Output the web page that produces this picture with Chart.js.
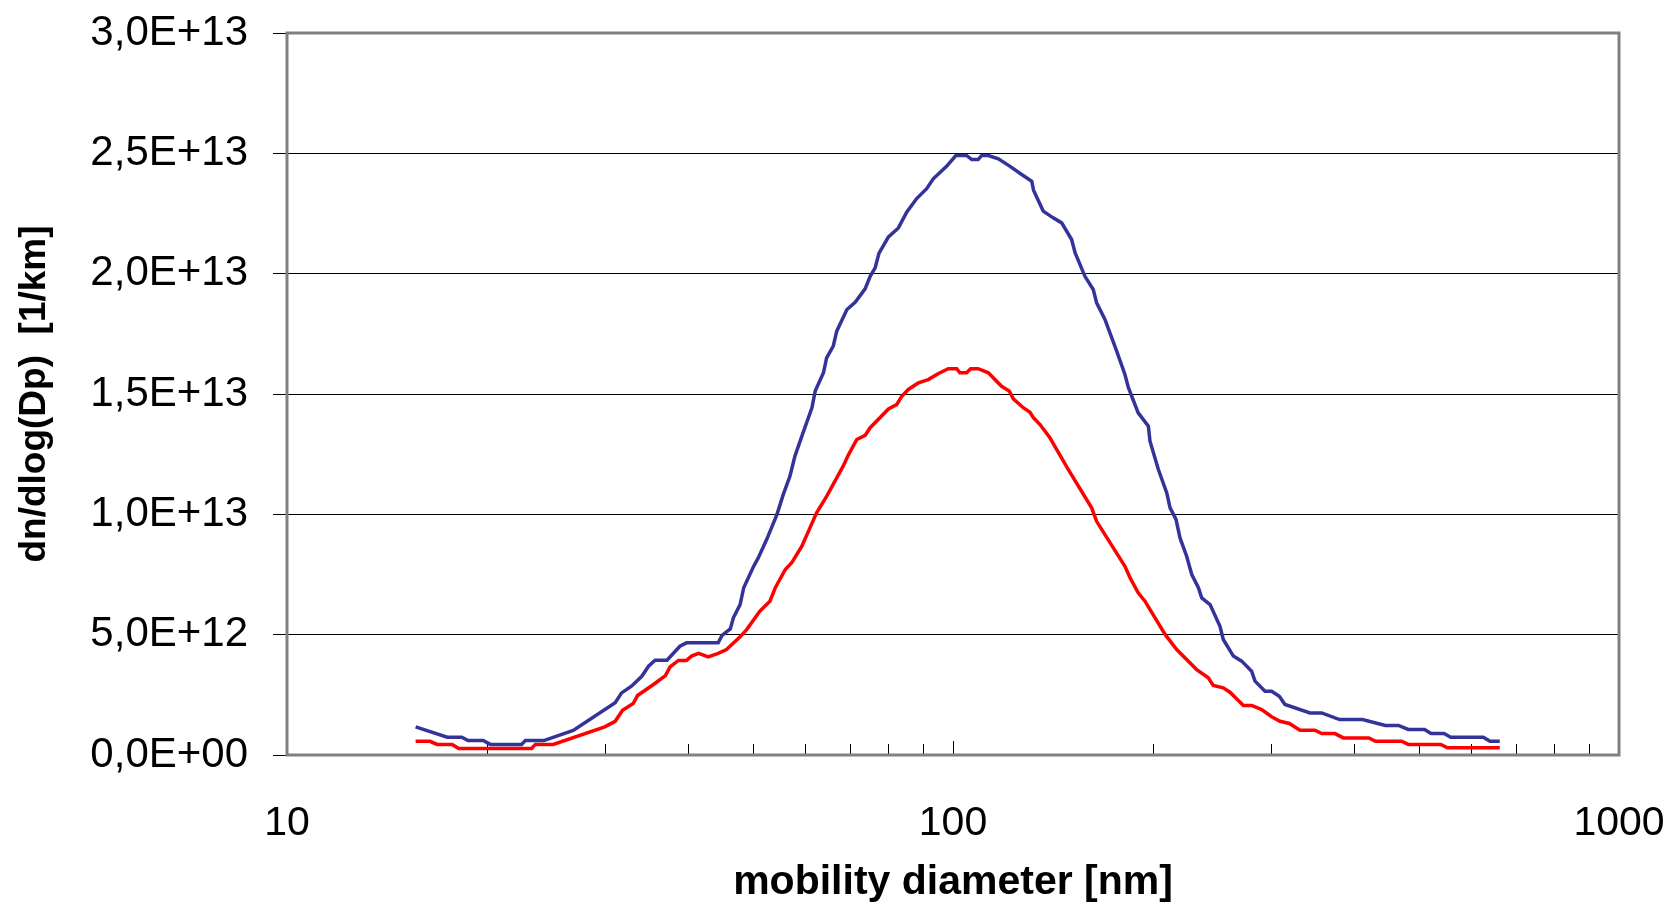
<!DOCTYPE html>
<html>
<head>
<meta charset="utf-8">
<script src="https://cdn.jsdelivr.net/npm/chart.js@4.4.1/dist/chart.umd.min.js"></script>
<style>
  html, body { margin: 0; padding: 0; background: #fff; }
  #wrap { width: 1674px; height: 902px; }
</style>
</head>
<body>
<div id="wrap"><canvas id="myChart" width="1674" height="902"></canvas></div>
<script>
// mobility diameter [nm] and dn/dlog(Dp) [1/km]
const diamBlue = [15.6, 17.4, 18.3, 18.7, 19.7, 20.2, 22.5, 22.8, 24.3, 26.9, 31.1, 31.8, 32.9, 34.1, 34.9, 35.7, 37.2, 38.9, 39.8, 44.4,
    45.0, 46.3, 46.8, 47.9, 48.5, 50.2, 51.0, 52.5, 54.4, 55.6, 56.9, 57.9, 59.3, 61.4, 62.1, 63.9, 64.6, 66.1, 66.9, 69.3,
    71.3, 73.8, 75.1, 76.4, 77.4, 80.0, 82.8, 85.2, 88.2, 91.3, 93.4, 97.8, 101.0, 104.8, 106.7, 109.1, 110.4, 113.0, 117.0, 121.8,
    126.8, 131.3, 132.1, 136.6, 141.4, 145.6, 150.7, 152.5, 157.8, 162.4, 164.3, 169.1, 176.1, 181.2, 183.4, 189.7, 196.5, 197.6, 203.4, 209.4,
    211.8, 216.2, 219.2, 224.3, 228.3, 233.6, 236.3, 243.2, 251.7, 254.6, 263.6, 271.3, 280.8, 284.1, 294.1, 300.9, 309.0, 315.1, 343.6, 357.8,
    380.6, 411.9, 445.8, 466.5, 482.6, 510.5, 522.2, 546.1, 558.9, 625.5, 640.1, 662.2];
const countBlue = [1.17e12, 0.74e12, 0.74e12, 0.60e12, 0.60e12, 0.44e12, 0.44e12, 0.60e12, 0.60e12, 1.02e12, 2.17e12, 2.58e12, 2.86e12, 3.27e12, 3.69e12, 3.94e12, 3.94e12, 4.52e12, 4.66e12, 4.66e12,
    4.97e12, 5.24e12, 5.70e12, 6.25e12, 6.95e12, 7.84e12, 8.19e12, 8.95e12, 9.99e12, 10.82e12, 11.58e12, 12.42e12, 13.25e12, 14.43e12, 15.12e12, 15.88e12, 16.50e12, 16.99e12, 17.61e12, 18.51e12,
    18.81e12, 19.37e12, 19.89e12, 20.24e12, 20.84e12, 21.53e12, 21.90e12, 22.55e12, 23.12e12, 23.53e12, 23.94e12, 24.46e12, 24.91e12, 24.91e12, 24.74e12, 24.74e12, 24.91e12, 24.91e12, 24.77e12, 24.46e12,
    24.12e12, 23.84e12, 23.47e12, 22.60e12, 22.32e12, 22.11e12, 21.42e12, 20.87e12, 19.89e12, 19.34e12, 18.79e12, 18.10e12, 16.78e12, 15.81e12, 15.26e12, 14.22e12, 13.66e12, 13.04e12, 11.86e12, 10.89e12,
    10.27e12, 9.79e12, 9.02e12, 8.26e12, 7.50e12, 6.95e12, 6.53e12, 6.25e12, 5.35e12, 4.80e12, 4.11e12, 3.90e12, 3.48e12, 3.07e12, 2.65e12, 2.65e12, 2.44e12, 2.10e12, 1.75e12, 1.75e12,
    1.47e12, 1.47e12, 1.23e12, 1.23e12, 1.06e12, 1.06e12, 0.89e12, 0.89e12, 0.74e12, 0.74e12, 0.57e12, 0.57e12];

const diamRed = [15.6, 16.4, 16.8, 17.7, 18.1, 23.3, 23.6, 25.1, 30.0, 31.1, 31.9, 33.1, 33.6, 35.5, 37.0, 37.6, 38.7, 39.8, 40.5, 41.5,
    42.9, 44.4, 45.7, 47.9, 49.0, 51.3, 53.1, 54.1, 56.0, 57.3, 59.3, 62.4, 64.6, 68.4, 69.6, 71.7, 73.8, 75.1, 80.0, 82.3,
    83.8, 85.7, 88.7, 91.8, 95.1, 98.4, 101.3, 102.4, 104.8, 106.3, 109.1, 113.0, 118.3, 121.5, 123.2, 127.5, 130.5, 132.1, 135.1, 139.8,
    149.0, 161.5, 164.3, 181.2, 184.5, 189.7, 194.2, 208.2, 216.7, 232.2, 241.7, 245.9, 254.6, 260.5, 272.9, 280.8, 290.7, 300.9, 309.7, 319.9,
    331.9, 349.5, 357.8, 374.6, 385.5, 421.2, 430.9, 471.7, 482.6, 540.1, 552.6, 662.2];
const countRed = [0.57e12, 0.57e12, 0.44e12, 0.44e12, 0.27e12, 0.27e12, 0.44e12, 0.44e12, 1.17e12, 1.40e12, 1.86e12, 2.14e12, 2.47e12, 2.93e12, 3.30e12, 3.66e12, 3.93e12, 3.93e12, 4.11e12, 4.22e12,
    4.08e12, 4.22e12, 4.38e12, 4.91e12, 5.21e12, 5.98e12, 6.39e12, 6.95e12, 7.71e12, 8.00e12, 8.68e12, 10.06e12, 10.75e12, 12.00e12, 12.45e12, 13.11e12, 13.28e12, 13.60e12, 14.38e12, 14.56e12,
    14.91e12, 15.19e12, 15.46e12, 15.60e12, 15.85e12, 16.05e12, 16.05e12, 15.88e12, 15.88e12, 16.05e12, 16.05e12, 15.88e12, 15.32e12, 15.12e12, 14.80e12, 14.43e12, 14.24e12, 14.01e12, 13.73e12, 13.18e12,
    11.86e12, 10.27e12, 9.71e12, 7.84e12, 7.36e12, 6.74e12, 6.39e12, 5.01e12, 4.38e12, 3.55e12, 3.21e12, 2.89e12, 2.79e12, 2.61e12, 2.06e12, 2.06e12, 1.89e12, 1.59e12, 1.40e12, 1.31e12,
    1.03e12, 1.03e12, 0.89e12, 0.89e12, 0.71e12, 0.71e12, 0.57e12, 0.57e12, 0.44e12, 0.44e12, 0.30e12, 0.30e12];

const xLabelTicks = [10, 100, 1000];
const xTickMarks = [20, 30, 40, 50, 60, 70, 80, 90, 100, 200, 300, 400, 500, 600, 700, 800, 900];

const FONT = '"Liberation Sans", Arial, sans-serif';

// 3,0E+13 style labels
function sciLabel(value) {
    const parts = Number(value).toExponential(1).split('e');
    const sign = parts[1][0];
    const exp = parts[1].slice(1).padStart(2, '0');
    return parts[0].replace('.', ',') + 'E' + sign + exp;
}

// no label overflow into the layout, the padding below places the plot
function noOverflow(scale) {
    scale.paddingTop = 0;
    scale.paddingBottom = 0;
    scale.paddingLeft = 0;
    scale.paddingRight = 0;
}

// frame round the plot and the small tick marks on the log axis
const framePlugin = {
    id: 'frame',
    beforeDatasetsDraw(chart) {
        const { ctx, chartArea: a, scales: { x } } = chart;
        ctx.save();
        ctx.strokeStyle = '#000';
        ctx.lineWidth = 1;
        ctx.beginPath();
        xTickMarks.forEach(v => {
            const px = Math.round(x.getPixelForValue(v)) + 0.5;
            const len = v === 100 ? 14 : 11;
            ctx.moveTo(px, a.bottom);
            ctx.lineTo(px, a.bottom - len);
        });
        ctx.stroke();
        ctx.strokeStyle = '#808080';
        ctx.lineWidth = 3;
        ctx.strokeRect(a.left, a.top, a.right - a.left, a.bottom - a.top);
        ctx.restore();
    }
};

const blueData = diamBlue.map((d, i) => ({ x: d, y: countBlue[i] }));
const redData = diamRed.map((d, i) => ({ x: d, y: countRed[i] }));

new Chart(document.getElementById('myChart').getContext('2d'), {
    type: 'line',
    data: {
        datasets: [
            {
                label: 'blue',
                data: blueData,
                borderColor: '#333399',
                borderWidth: 3.5,
                pointRadius: 0,
                tension: 0,
                fill: false
            },
            {
                label: 'red',
                data: redData,
                borderColor: '#ff0000',
                borderWidth: 3.5,
                pointRadius: 0,
                tension: 0,
                fill: false
            }
        ]
    },
    options: {
        responsive: false,
        animation: false,
        devicePixelRatio: 1,
        layout: { padding: { left: 0, top: 33, right: 55, bottom: 0 } },
        plugins: {
            legend: { display: false },
            tooltip: { enabled: false }
        },
        scales: {
            x: {
                type: 'logarithmic',
                min: 10,
                max: 1000,
                afterBuildTicks: scale => {
                    scale.ticks = xLabelTicks.map(v => ({ value: v }));
                },
                afterFit: scale => {
                    scale.height = 147;
                    noOverflow(scale);
                },
                grid: { display: false, drawTicks: false },
                border: { display: false },
                ticks: {
                    color: '#000',
                    padding: 44,
                    maxRotation: 0,
                    font: { family: FONT, size: 41 },
                    callback: value => String(value)
                },
                title: {
                    display: true,
                    text: 'mobility diameter [nm]',
                    color: '#000',
                    font: { family: FONT, size: 41, weight: 'bold', lineHeight: 0.8 },
                    padding: { top: 0, bottom: 3 }
                }
            },
            y: {
                min: 0,
                max: 3e13,
                afterFit: scale => {
                    scale.width = 287;
                    noOverflow(scale);
                },
                grid: { color: '#000', lineWidth: 1, drawTicks: true, tickLength: 14 },
                border: { display: false },
                ticks: {
                    stepSize: 5e12,
                    color: '#000',
                    padding: 25,
                    font: { family: FONT, size: 42 },
                    callback: value => sciLabel(value)
                },
                title: {
                    display: true,
                    text: 'dn/dlog(Dp)  [1/km]',
                    color: '#000',
                    font: { family: FONT, size: 37, weight: 'bold', lineHeight: 1 },
                    padding: { top: 16, bottom: 0 }
                }
            }
        }
    },
    plugins: [framePlugin]
});
</script>
</body>
</html>
